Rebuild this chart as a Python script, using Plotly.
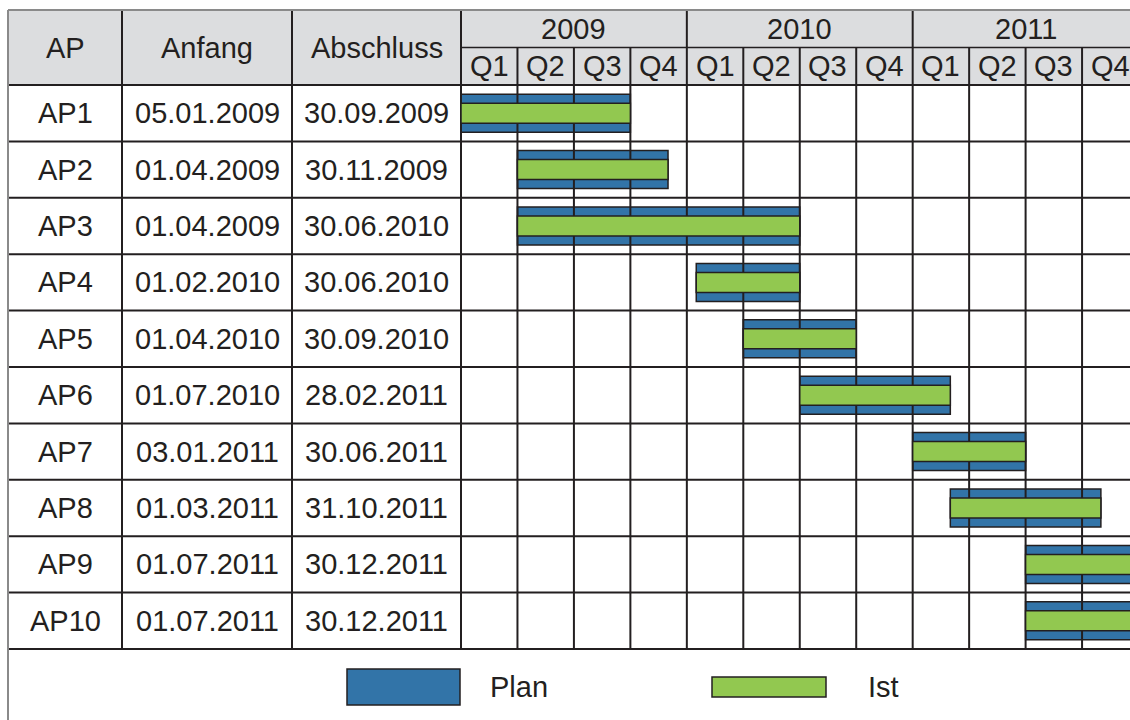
import plotly.graph_objects as go

# ---------------- data ----------------
ap_names = ["AP1", "AP2", "AP3", "AP4", "AP5", "AP6", "AP7", "AP8", "AP9", "AP10"]
anfang = ["05.01.2009", "01.04.2009", "01.04.2009", "01.02.2010", "01.04.2010",
          "01.07.2010", "03.01.2011", "01.03.2011", "01.07.2011", "01.07.2011"]
abschluss = ["30.09.2009", "30.11.2009", "30.06.2010", "30.06.2010", "30.09.2010",
             "28.02.2011", "30.06.2011", "31.10.2011", "30.12.2011", "30.12.2011"]
# bar extents in months since 01.2009 (as drawn in the picture)
plan_start = [0, 3, 3, 12.5, 15, 18, 24, 26, 30, 30]
plan_end = [9, 11, 18, 18, 21, 26, 30, 34, 36, 36]
ist_start = [0, 3, 3, 12.5, 15, 18, 24, 26, 30, 30]
ist_end = [9, 11, 18, 18, 21, 26, 30, 34, 36, 36]
years = ["2009", "2010", "2011"]
quarters = ["Q1", "Q2", "Q3", "Q4"]
col_headers = ["AP", "Anfang", "Abschluss"]
legend_labels = ["Plan", "Ist"]

# ---------------- style ----------------
W, H = 1130, 720
BLUE = "#3274a8"
GREEN = "#92c850"
GRAY = "#dcdddf"
INK = "#231f20"
BORDER = "#8a8a8a"
FONT = "Liberation Sans"
FS = 29

ROW_TOP = 85.0      # px, top of first data row
ROW_H = 56.4        # px per row
HDR_TOP = 10.0
HDR_MID = 47.5
GANTT_X0 = 461.0
MONTH_PX = 18.82
COL_X = [8.0, 122.0, 292.0, 461.0]


def X(px):
    return px / W


def Y(py):
    return 1 - py / H


def row_of(py):
    return -0.5 + (py - ROW_TOP) / ROW_H


n = len(ap_names)
rows = list(range(n))
x_max = (W - GANTT_X0) / MONTH_PX
y_range = [row_of(H), row_of(0)]

fig = go.Figure()

# vertical quarter lines (drawn above the blue bars, below the green ones)
vx, vy = [], []
for k in range(0, 37, 3):
    vx += [k, k, None]
    vy += [-0.5, n - 0.5, None]
fig.add_trace(go.Scatter(x=vx, y=vy, mode="lines", line=dict(color=INK, width=2),
                         hoverinfo="skip", showlegend=False, xaxis="x", yaxis="y"))

# Plan bars
fig.add_trace(go.Bar(
    y=rows, x=[e - s for s, e in zip(plan_start, plan_end)], base=plan_start,
    orientation="h", width=0.674, name="Plan",
    marker=dict(color=BLUE, line=dict(color=INK, width=1.5)),
    hoverinfo="skip", showlegend=False, xaxis="x", yaxis="y"))

# Ist bars on overlaying axis so they sit above the grid lines
fig.add_trace(go.Bar(
    y=rows, x=[e - s for s, e in zip(ist_start, ist_end)], base=ist_start,
    orientation="h", width=0.355, name="Ist",
    marker=dict(color=GREEN, line=dict(color=INK, width=1.5)),
    hoverinfo="skip", showlegend=False, xaxis="x2", yaxis="y"))

shapes = []
# header background
shapes.append(dict(type="rect", xref="paper", yref="paper", x0=X(COL_X[0]), x1=1,
                   y0=Y(ROW_TOP), y1=Y(HDR_TOP), fillcolor=GRAY, line_width=0, layer="below"))
# horizontal row lines
for i in range(n + 1):
    yy = i - 0.5
    shapes.append(dict(type="line", xref="paper", yref="y", x0=X(COL_X[0]), x1=1,
                       y0=yy, y1=yy, line=dict(color=INK, width=2), layer="below"))
# header middle line (year / quarter)
shapes.append(dict(type="line", xref="paper", yref="y", x0=X(GANTT_X0), x1=1,
                   y0=row_of(HDR_MID), y1=row_of(HDR_MID), line=dict(color=INK, width=1.5),
                   layer="below"))
# table column lines
for cx in COL_X[1:]:
    shapes.append(dict(type="line", xref="paper", yref="y", x0=X(cx), x1=X(cx),
                       y0=row_of(HDR_TOP), y1=n - 0.5, line=dict(color=INK, width=2),
                       layer="below"))
# quarter lines in header
for k in range(3, 37, 3):
    top = HDR_TOP if k % 12 == 0 else HDR_MID
    shapes.append(dict(type="line", xref="x", yref="y", x0=k, x1=k,
                       y0=row_of(top), y1=-0.5, line=dict(color=INK, width=2), layer="below"))
# outer border (top / left)
shapes.append(dict(type="line", xref="paper", yref="paper", x0=X(COL_X[0]), x1=1,
                   y0=Y(HDR_TOP), y1=Y(HDR_TOP), line=dict(color=BORDER, width=2)))
shapes.append(dict(type="line", xref="paper", yref="paper", x0=X(COL_X[0]), x1=X(COL_X[0]),
                   y0=Y(HDR_TOP), y1=0, line=dict(color=BORDER, width=2)))
# legend boxes
shapes.append(dict(type="rect", xref="paper", yref="paper", x0=X(347), x1=X(460),
                   y0=Y(705), y1=Y(669), fillcolor=BLUE, line=dict(color=INK, width=1.5)))
shapes.append(dict(type="rect", xref="paper", yref="paper", x0=X(712), x1=X(826),
                   y0=Y(697), y1=Y(677), fillcolor=GREEN, line=dict(color=INK, width=1.5)))

annotations = []
tf = dict(family=FONT, size=FS, color=INK)
col_centers = [(COL_X[i] + COL_X[i + 1]) / 2 for i in range(3)]
# table headers
for cx, t in zip(col_centers, col_headers):
    annotations.append(dict(x=X(cx), y=row_of((HDR_TOP + ROW_TOP) / 2), xref="paper", yref="y",
                            text=t, showarrow=False, font=tf, xanchor="center", yanchor="middle"))
# table rows
for i in rows:
    for cx, t in zip(col_centers, [ap_names[i], anfang[i], abschluss[i]]):
        annotations.append(dict(x=X(cx), y=i, xref="paper", yref="y", text=t, showarrow=False,
                                font=tf, xanchor="center", yanchor="middle"))
# years
for j, yr in enumerate(years):
    annotations.append(dict(x=12 * j + 6, y=row_of((HDR_TOP + HDR_MID) / 2), xref="x", yref="y",
                            text=yr, showarrow=False, font=tf, xanchor="center", yanchor="middle"))
# quarters
for j in range(len(years)):
    for q, ql in enumerate(quarters):
        annotations.append(dict(x=12 * j + 3 * q + 1.5, y=row_of((HDR_MID + ROW_TOP) / 2),
                                xref="x", yref="y", text=ql, showarrow=False, font=tf,
                                xanchor="center", yanchor="middle"))
# legend labels
annotations.append(dict(x=X(488), y=Y(687), xref="paper", yref="paper", text=legend_labels[0],
                        showarrow=False, font=tf, xanchor="left", yanchor="middle"))
annotations.append(dict(x=X(866), y=Y(687), xref="paper", yref="paper", text=legend_labels[1],
                        showarrow=False, font=tf, xanchor="left", yanchor="middle"))

ax_common = dict(range=[0, x_max], showgrid=False, zeroline=False, showticklabels=False,
                 showline=False, ticks="", fixedrange=True)
fig.update_layout(
    width=W, height=H, autosize=False,
    margin=dict(l=0, r=0, t=0, b=0, pad=0),
    paper_bgcolor="white", plot_bgcolor="rgba(0,0,0,0)",
    barmode="overlay", showlegend=False,
    xaxis=dict(domain=[X(GANTT_X0), 1], **ax_common),
    xaxis2=dict(overlaying="x", matches="x", **ax_common),
    yaxis=dict(range=y_range, domain=[0, 1], showgrid=False, zeroline=False,
               showticklabels=False, showline=False, ticks="", fixedrange=True),
    shapes=shapes, annotations=annotations,
)

fig.write_html(
    "out.html",
    config={"displayModeBar": False, "staticPlot": True},
    post_script="document.body.style.margin='0';document.body.style.overflow='hidden';",
)
